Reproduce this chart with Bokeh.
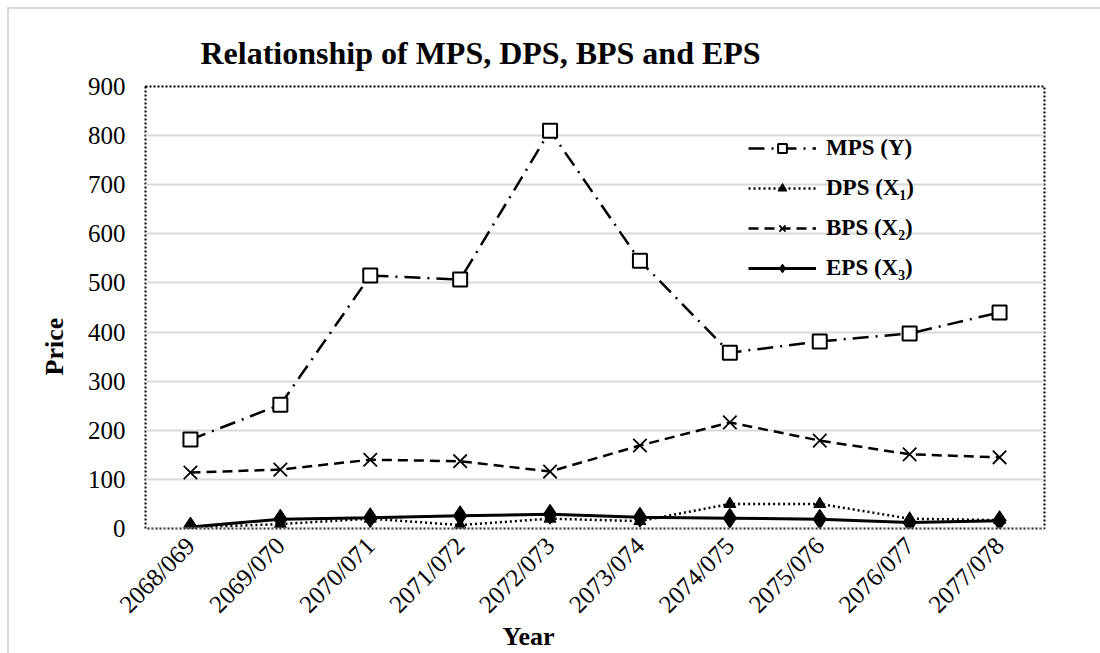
from math import pi

from bokeh.plotting import figure
from bokeh.models import (FactorRange, FixedTicker, Legend, Span, Title,
                          InlineStyleSheet)
from bokeh.embed import file_html
from bokeh.resources import INLINE

# Fiscal years and per-share figures
years = ["2068/069", "2069/070", "2070/071", "2071/072", "2072/073",
         "2073/074", "2074/075", "2075/076", "2076/077", "2077/078"]
mps = [181, 252, 515, 507, 810, 545, 358, 381, 397, 440]
dps = [2, 9, 20, 7, 20, 15, 50, 50, 20, 17]
bps = [114, 120, 140, 137, 116, 169, 216, 179, 151, 145]
eps = [3, 19, 22, 26, 29, 23, 21, 19, 12, 16]
y_ticks = [0, 100, 200, 300, 400, 500, 600, 700, 800, 900]

FONT = "Liberation Serif"

p = figure(
    x_range=FactorRange(*years, range_padding=0),
    y_range=(0, 900),
    frame_width=899, frame_height=442,
    min_border_left=145, min_border_right=56,
    min_border_top=86, min_border_bottom=125,
    output_backend="svg", toolbar_location=None,
)
p.background_fill_color = "white"
p.border_fill_color = "white"

# chart title
p.title.text = "Relationship of MPS, DPS, BPS and EPS"
p.title.align = "left"
p.title.offset = 55
p.title.standoff = 31
p.title.text_font = FONT
p.title.text_font_size = "32px"
p.title.text_font_style = "bold"
p.title.text_color = "black"

# plot-area border: dotted
p.outline_line_color = "black"
p.outline_line_dash = "2 2"
p.outline_line_width = 2

# axes
p.yaxis.ticker = FixedTicker(ticks=y_ticks)
p.yaxis.axis_line_color = None
p.yaxis.major_tick_line_color = None
p.yaxis.minor_tick_line_color = None
p.yaxis.major_label_text_font = FONT
p.yaxis.major_label_text_font_size = "25px"
p.yaxis.major_label_text_color = "black"
p.yaxis.major_label_standoff = 14

p.xaxis.axis_line_color = None
p.xaxis.major_tick_line_color = None
p.xaxis.minor_tick_line_color = None
p.xaxis.major_label_orientation = pi / 4
p.xaxis.major_label_text_font = FONT
p.xaxis.major_label_text_font_size = "25px"
p.xaxis.major_label_text_color = "black"
p.xaxis.major_label_standoff = 7

p.xgrid.grid_line_color = None
p.ygrid.grid_line_color = "#d9d9d9"
p.ygrid.grid_line_width = 2

# axis titles
p.add_layout(Title(text="Price", align="left", offset=153, standoff=32,
                   text_font=FONT, text_font_size="26px",
                   text_font_style="bold", text_color="black"), "left")
p.add_layout(Title(text="Year", align="left", offset=357, standoff=-22,
                   text_font=FONT, text_font_size="26px",
                   text_font_style="bold", text_color="black"), "below")

# light baseline at zero
p.add_layout(Span(location=0, dimension="width", line_color="#c8c8c8",
                  line_width=2, line_dash="2 1"))

# series
r1 = p.line(years, mps, line_color="black", line_width=2.5, line_dash="16 7 2 7")
s1 = p.scatter(years, mps, marker="square", size=14, fill_color="white",
               line_color="black", line_width=2)
r2 = p.line(years, dps, line_color="black", line_width=2.5, line_dash="2 3")
s2 = p.scatter(years, dps, marker="triangle", size=12, fill_color="black",
               line_color="black")
r3 = p.line(years, bps, line_color="black", line_width=2.5, line_dash="10 6")
s3 = p.scatter(years, bps, marker="x", size=19, line_color="black",
               line_width=1.8)
r4 = p.line(years, eps, line_color="black", line_width=3)
s4 = p.scatter(years, eps, marker="diamond", size=20, fill_color="black",
               line_color="black")

legend = Legend(
    items=[("MPS (Y)", [r1, s1]), ("DPS (X\u2081)", [r2, s2]),
           ("BPS (X\u2082)", [r3, s3]), ("EPS (X\u2083)", [r4, s4])],
    location=(603, 247),
    label_text_font=FONT, label_text_font_size="23px",
    label_text_font_style="bold", label_text_color="black",
    glyph_width=68, glyph_height=22, label_height=22,
    label_standoff=10, spacing=14, padding=0, margin=0,
    background_fill_alpha=0, border_line_color=None,
)
p.add_layout(legend, "center")

# thin grey frame around the chart
p.stylesheets = [InlineStyleSheet(css="""
:host::after {
  content: ""; position: absolute; left: 7px; top: 7px; right: 0; bottom: 0;
  border-top: 2px solid #d9d9d9; border-left: 2px solid #d9d9d9;
  pointer-events: none; z-index: 10;
}
""")]

open("out.html", "w").write(file_html(p, INLINE))
